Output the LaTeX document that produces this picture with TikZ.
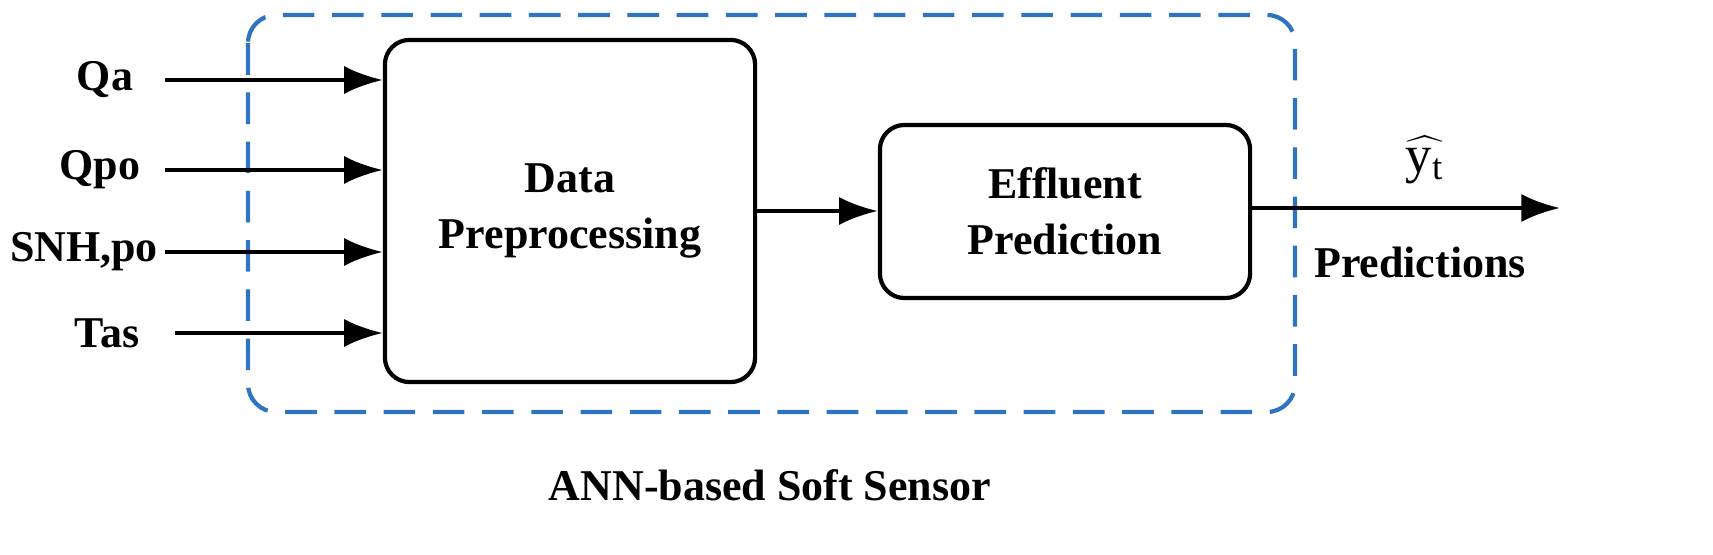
\documentclass[tikz,border=0pt]{standalone}
\usepackage{fontspec}
\setmainfont{Liberation Serif}
\usetikzlibrary{arrows.meta}
\definecolor{dblue}{HTML}{2F74C0}
\begin{document}
\begin{tikzpicture}[x=0.01cm,y=-0.01cm,
  lbl/.style={font=\fontsize{12.5}{14}\selectfont\bfseries},
  blk/.style={draw,line width=1.2pt,rounded corners=7pt,align=center,font=\fontsize{12.5}{16}\selectfont\bfseries},
  arr/.style={line width=1.2pt,-{Latex[length=11pt,width=8pt]}}]
\useasboundingbox (0,0) rectangle (1713,555);
\draw[dblue,line width=1.2pt,dash pattern=on 9pt off 5pt,rounded corners=8pt] (248,15) rectangle (1295,412);
\node[blk,minimum width=3.7cm,minimum height=3.42cm] (dp) at (570,211) {Data\\Preprocessing};
\node[blk,minimum width=3.7cm,minimum height=1.73cm] (ep) at (1065,211.5) {Effluent\\Prediction};
\node[lbl] (qa) at (105,80) {Qa};
\node[lbl] (qpo) at (100,170) {Qpo};
\node[lbl] (snh) at (84,252) {SNH,po};
\node[lbl] (tas) at (107,333) {Tas};
\coordinate (a1) at (165,80); \coordinate (a2) at (165,170);
\coordinate (a3) at (165,252); \coordinate (a4) at (175,333);
\draw[arr] (a1) -- (a1 -| dp.west);
\draw[arr] (a2) -- (a2 -| dp.west);
\draw[arr] (a3) -- (a3 -| dp.west);
\draw[arr] (a4) -- (a4 -| dp.west);
\draw[arr] (dp.east |- 0,211) -- (ep.west |- 0,211);
\coordinate (out) at (1560,208);
\draw[arr] (ep.east |- out) -- (out);
\node[inner sep=0pt] (yt) at (1425,160) {\fontsize{15}{16}\selectfont$\widehat{\mathrm{y}_{\mathrm{t}}}$};
\node[lbl] (pred) at (1420,262) {Predictions};
\node[lbl] (ann) at (770,485) {ANN-based Soft Sensor};
\end{tikzpicture}
\end{document}
